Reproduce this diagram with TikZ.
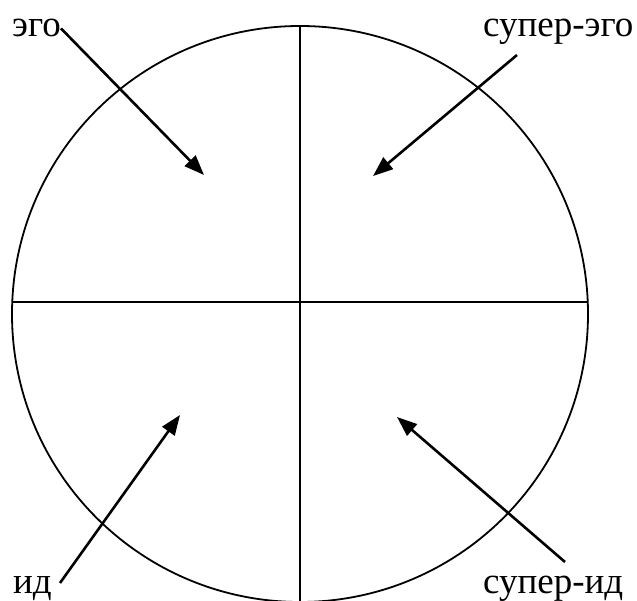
\documentclass[tikz,border=0pt]{standalone}
\usepackage{fontspec}
\setmainfont{Liberation Serif}
\usetikzlibrary{arrows.meta}

\begin{document}
\begin{tikzpicture}[x=1pt,y=-1pt,font=\fontsize{37}{40}\selectfont,
 lbl/.style={inner sep=0pt,anchor=base west},
 part/.style={draw=black,line width=1.8pt},
 pointer/.style={-{Triangle[length=20pt,width=15pt]},draw=black,line width=2.6pt}]
\path[use as bounding box] (0,0) rectangle (637,601);
% the psyche circle, cut off at the page foot
\begin{scope}
\clip (0,0) rectangle (637,601);
\node[circle,part,minimum size=576pt,inner sep=0pt] (disc) at (300,314) {};
\draw[part] (disc.north) -- (300,601);
\end{scope}
\draw[part] (12.3,302) -- (587.7,302);
% labels
\node[lbl] (ego) at (12,37) {эго};
\node[lbl] (superego) at (483,37) {супер-эго};
\node[lbl] (id) at (13,593) {ид};
\node[lbl] (superid) at (483,593) {супер-ид};
% arrow ends
\coordinate (superegotail) at (517,55);
\coordinate (idtail) at (60,583);
\coordinate (superidtail) at (565,562);
\coordinate (egotip) at (204,175);
\coordinate (superegotip) at (373,176);
\coordinate (idtip) at (180,415);
\coordinate (superidtip) at (397,417);
\draw[pointer] (ego.east) -- (egotip);
\draw[pointer] (superegotail) -- (superegotip);
\draw[pointer] (idtail) -- (idtip);
\draw[pointer] (superidtail) -- (superidtip);
\end{tikzpicture}
\end{document}
